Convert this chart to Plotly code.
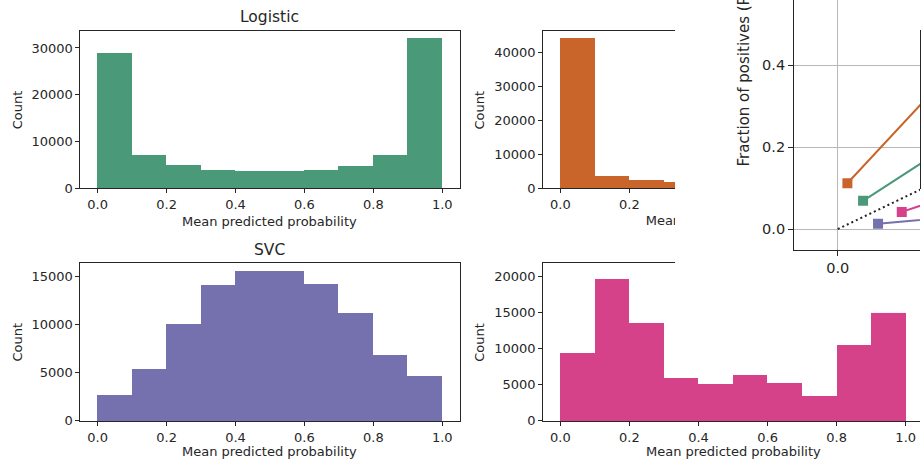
import plotly.graph_objects as go

W, H = 921, 460
FIG_H = 469  # page height that maps onto the 460 px photograph

# ---------------- data ----------------
bin_edges = [0.0, 0.1, 0.2, 0.3, 0.4, 0.5, 0.6, 0.7, 0.8, 0.9, 1.0]
prob_ticks = [0.0, 0.2, 0.4, 0.6, 0.8, 1.0]

logistic_counts = [28930, 7150, 4930, 3930, 3710, 3700, 3930, 4710, 7000, 32040]
naive_bayes_counts = [44140, 3460, 2280, 1770, 1500, 1350, 1400, 1600, 2300, 40100]
svc_counts = [2670, 5440, 10080, 14060, 15560, 15610, 14210, 11190, 6860, 4710]
random_forest_counts = [9440, 19630, 13610, 6020, 5090, 6430, 5230, 3430, 10510, 20860]

logistic_yticks = [0, 10000, 20000, 30000]
naive_bayes_yticks = [0, 10000, 20000, 30000, 40000]
svc_yticks = [0, 5000, 10000, 15000]
random_forest_yticks = [0, 5000, 10000, 15000, 20000]

cal_ticks = [0.0, 0.2, 0.4, 0.6, 0.8, 1.0]
perfect_x = [0.0, 1.0]
perfect_y = [0.0, 1.0]
cal_logistic_x = [0.0295, 0.15, 0.25, 0.35, 0.45, 0.55, 0.65, 0.75, 0.85, 0.96]
cal_logistic_y = [0.069, 0.232, 0.36, 0.44, 0.51, 0.57, 0.64, 0.72, 0.81, 0.93]
cal_nb_x = [0.0112, 0.14, 0.25, 0.35, 0.45, 0.55, 0.65, 0.75, 0.86, 0.99]
cal_nb_y = [0.112, 0.401, 0.50, 0.55, 0.58, 0.60, 0.62, 0.66, 0.72, 0.88]
cal_svc_x = [0.047, 0.15, 0.25, 0.35, 0.45, 0.55, 0.65, 0.75, 0.85, 0.94]
cal_svc_y = [0.013, 0.032, 0.09, 0.21, 0.40, 0.60, 0.80, 0.92, 0.97, 0.99]
cal_rf_x = [0.0747, 0.15, 0.25, 0.35, 0.45, 0.55, 0.65, 0.75, 0.85, 0.95]
cal_rf_y = [0.042, 0.094, 0.20, 0.36, 0.50, 0.63, 0.76, 0.86, 0.93, 0.97]

names = ["Logistic", "Naive Bayes", "SVC", "Random forest"]
colors = {"Logistic": "#4a9a79", "Naive Bayes": "#c9652a",
          "SVC": "#7471ae", "Random forest": "#d64289"}

# ---------------- helpers ----------------
FONT = "DejaVu Sans"
TXT = "#262626"
LINE = "#262626"


def fx(p):
    return p / W


def fy(p):
    return 1 - p / H


centers = [(a + b) / 2 for a, b in zip(bin_edges[:-1], bin_edges[1:])]
widths = [b - a for a, b in zip(bin_edges[:-1], bin_edges[1:])]

fig = go.Figure()

hist_specs = [
    ("Logistic", logistic_counts, "x", "y"),
    ("Naive Bayes", naive_bayes_counts, "x2", "y2"),
    ("SVC", svc_counts, "x3", "y3"),
    ("Random forest", random_forest_counts, "x4", "y4"),
]
for name, counts, xa, ya in hist_specs:
    fig.add_trace(go.Bar(x=centers, y=counts, width=widths, name=name,
                         marker=dict(color=colors[name], line=dict(width=0)),
                         xaxis=xa, yaxis=ya, showlegend=False, hoverinfo="skip"))

# Naive Bayes x-axis label (partly hidden behind the inset)
fig.add_trace(go.Scatter(x=[0.5], y=[0.5], mode="text",
                         text=["Mean predicted probability"],
                         textfont=dict(family=FONT, size=13, color=TXT),
                         xaxis="x5", yaxis="y5", showlegend=False,
                         hoverinfo="skip", cliponaxis=True))

# inset cover panel
fig.add_trace(go.Scatter(x=[None], y=[None], mode="markers", xaxis="x6", yaxis="y6",
                         showlegend=False, hoverinfo="skip"))

# calibration curves
fig.add_trace(go.Scatter(x=perfect_x, y=perfect_y, mode="lines",
                         line=dict(color="#222222", width=2, dash="2px,3px"),
                         name="Perfectly calibrated", xaxis="x7", yaxis="y7",
                         showlegend=False, hoverinfo="skip"))
for name, xs, ys in [("Logistic", cal_logistic_x, cal_logistic_y),
                     ("Naive Bayes", cal_nb_x, cal_nb_y),
                     ("SVC", cal_svc_x, cal_svc_y),
                     ("Random forest", cal_rf_x, cal_rf_y)]:
    fig.add_trace(go.Scatter(x=xs, y=ys, mode="lines+markers", name=name,
                             line=dict(color=colors[name], width=2),
                             marker=dict(symbol="square", size=10, color=colors[name]),
                             xaxis="x7", yaxis="y7", showlegend=False, hoverinfo="skip"))


def xax(domain, rng, anchor, mirror=True):
    return dict(domain=domain, range=rng, anchor=anchor, tickvals=prob_ticks,
                tickformat=".1f", showline=True, mirror=mirror, linecolor=LINE,
                linewidth=1, ticks="outside", ticklen=4, tickcolor=LINE,
                showgrid=False, zeroline=False,
                tickfont=dict(family=FONT, size=13, color=TXT))


def yax(domain, counts, ticks, anchor, mirror=True):
    return dict(domain=domain, range=[0, 1.05 * max(counts)], anchor=anchor,
                tickvals=ticks, tickformat="d", showline=True, mirror=mirror,
                linecolor=LINE, linewidth=1, ticks="outside", ticklen=4,
                tickcolor=LINE, showgrid=False, zeroline=False,
                tickfont=dict(family=FONT, size=13, color=TXT))


left_dom = [fx(80.5), fx(460)]
right_dom = [fx(543.7), 1.0]
right_rng = [-0.05, -0.05 + (W - 543.7) / 345.7]
top_dom = [fy(187.7), fy(30.9)]
bot_dom = [fy(420), fy(262.3)]

inv = dict(visible=False, showgrid=False, zeroline=False)

layout = dict(
    width=W, height=FIG_H, margin=dict(l=0, r=0, t=0, b=0),
    paper_bgcolor="white", plot_bgcolor="white",
    font=dict(family=FONT, size=13, color=TXT),
    bargap=0, showlegend=False,
    xaxis=xax(left_dom, [-0.05, 1.05], "y"),
    yaxis=yax(top_dom, logistic_counts, logistic_yticks, "x"),
    xaxis2=xax(right_dom, right_rng, "y2"),
    yaxis2=yax(top_dom, naive_bayes_counts, naive_bayes_yticks, "x2"),
    xaxis3=xax(left_dom, [-0.05, 1.05], "y3"),
    yaxis3=yax(bot_dom, svc_counts, svc_yticks, "x3"),
    xaxis4=xax(right_dom, right_rng, "y4"),
    yaxis4=yax(bot_dom, random_forest_counts, random_forest_yticks, "x4", mirror=False),
    xaxis5=dict(domain=right_dom, range=right_rng, anchor="y5", **inv),
    yaxis5=dict(domain=[fy(240), fy(203)], range=[0, 1], anchor="x5", **inv),
    xaxis6=dict(domain=[fx(676), 1.0], range=[0, 1], anchor="y6", **inv),
    yaxis6=dict(domain=[fy(312), 1.0], range=[0, 1], anchor="x6", **inv),
    xaxis7=dict(domain=[fx(795), 1.0], range=[-0.051, 0.096], anchor="y7",
                tickvals=cal_ticks, tickformat=".1f", showline=True, mirror=False,
                linecolor=LINE, linewidth=1.2, ticks="outside", ticklen=5,
                tickcolor=LINE, showgrid=True, gridcolor="#b8b8b8", gridwidth=1,
                zeroline=False, tickfont=dict(family=FONT, size=14.5, color=TXT)),
    yaxis7=dict(domain=[fy(249), 1.0], range=[-0.05, 0.5596], anchor="x7",
                tickvals=cal_ticks, tickformat=".1f", showline=True, mirror=False,
                linecolor=LINE, linewidth=1.2, ticks="outside", ticklen=5,
                tickcolor=LINE, showgrid=True, gridcolor="#b8b8b8", gridwidth=1,
                zeroline=False, tickfont=dict(family=FONT, size=14.5, color=TXT)),
    shapes=[dict(type="rect", xref="x6", yref="y6", x0=-1, x1=2, y0=-1, y1=2,
                 fillcolor="white", line=dict(width=0), layer="below")],
)

ann = []


def add_ann(text, **kw):
    base = dict(text=text, showarrow=False,
                font=dict(family=FONT, size=13, color=TXT))
    base.update(kw)
    ann.append(base)


add_ann("Logistic", xref="x", x=0.5, yref="paper", y=fy(17), yanchor="middle",
        font=dict(family=FONT, size=15.5, color=TXT))
add_ann("SVC", xref="x3", x=0.5, yref="paper", y=fy(249), yanchor="middle",
        font=dict(family=FONT, size=15.5, color=TXT))
for ya, xp in [("y", 17.7), ("y2", 480.5), ("y3", 17.7), ("y4", 480.5)]:
    add_ann("Count", xref="paper", x=fx(xp), yref=ya + " domain", y=0.5,
            textangle=-90, xanchor="center", yanchor="middle")
add_ann("Mean predicted probability", xref="x", x=0.5, yref="paper", y=fy(221),
        yanchor="middle")
add_ann("Mean predicted probability", xref="x3", x=0.5, yref="paper", y=fy(451),
        yanchor="middle")
add_ann("Mean predicted probability", xref="x4", x=0.5, yref="paper", y=fy(451),
        yanchor="middle")
add_ann("Fraction of positives (Positive class: 1)", xref="paper", x=fx(745),
        yref="paper", y=fy(168), xanchor="center", yanchor="bottom", textangle=-90,
        font=dict(family=FONT, size=15, color=TXT))
layout["annotations"] = ann

fig.update_layout(**layout)
fig.write_html(
    "out.html", config={"displayModeBar": False},
    post_script=("document.documentElement.style.margin='0px';"
                 "document.documentElement.style.overflow='hidden';"
                 "document.body.style.margin='0px';"
                 "document.body.style.padding='0px';"
                 "document.body.style.overflow='hidden';"))
